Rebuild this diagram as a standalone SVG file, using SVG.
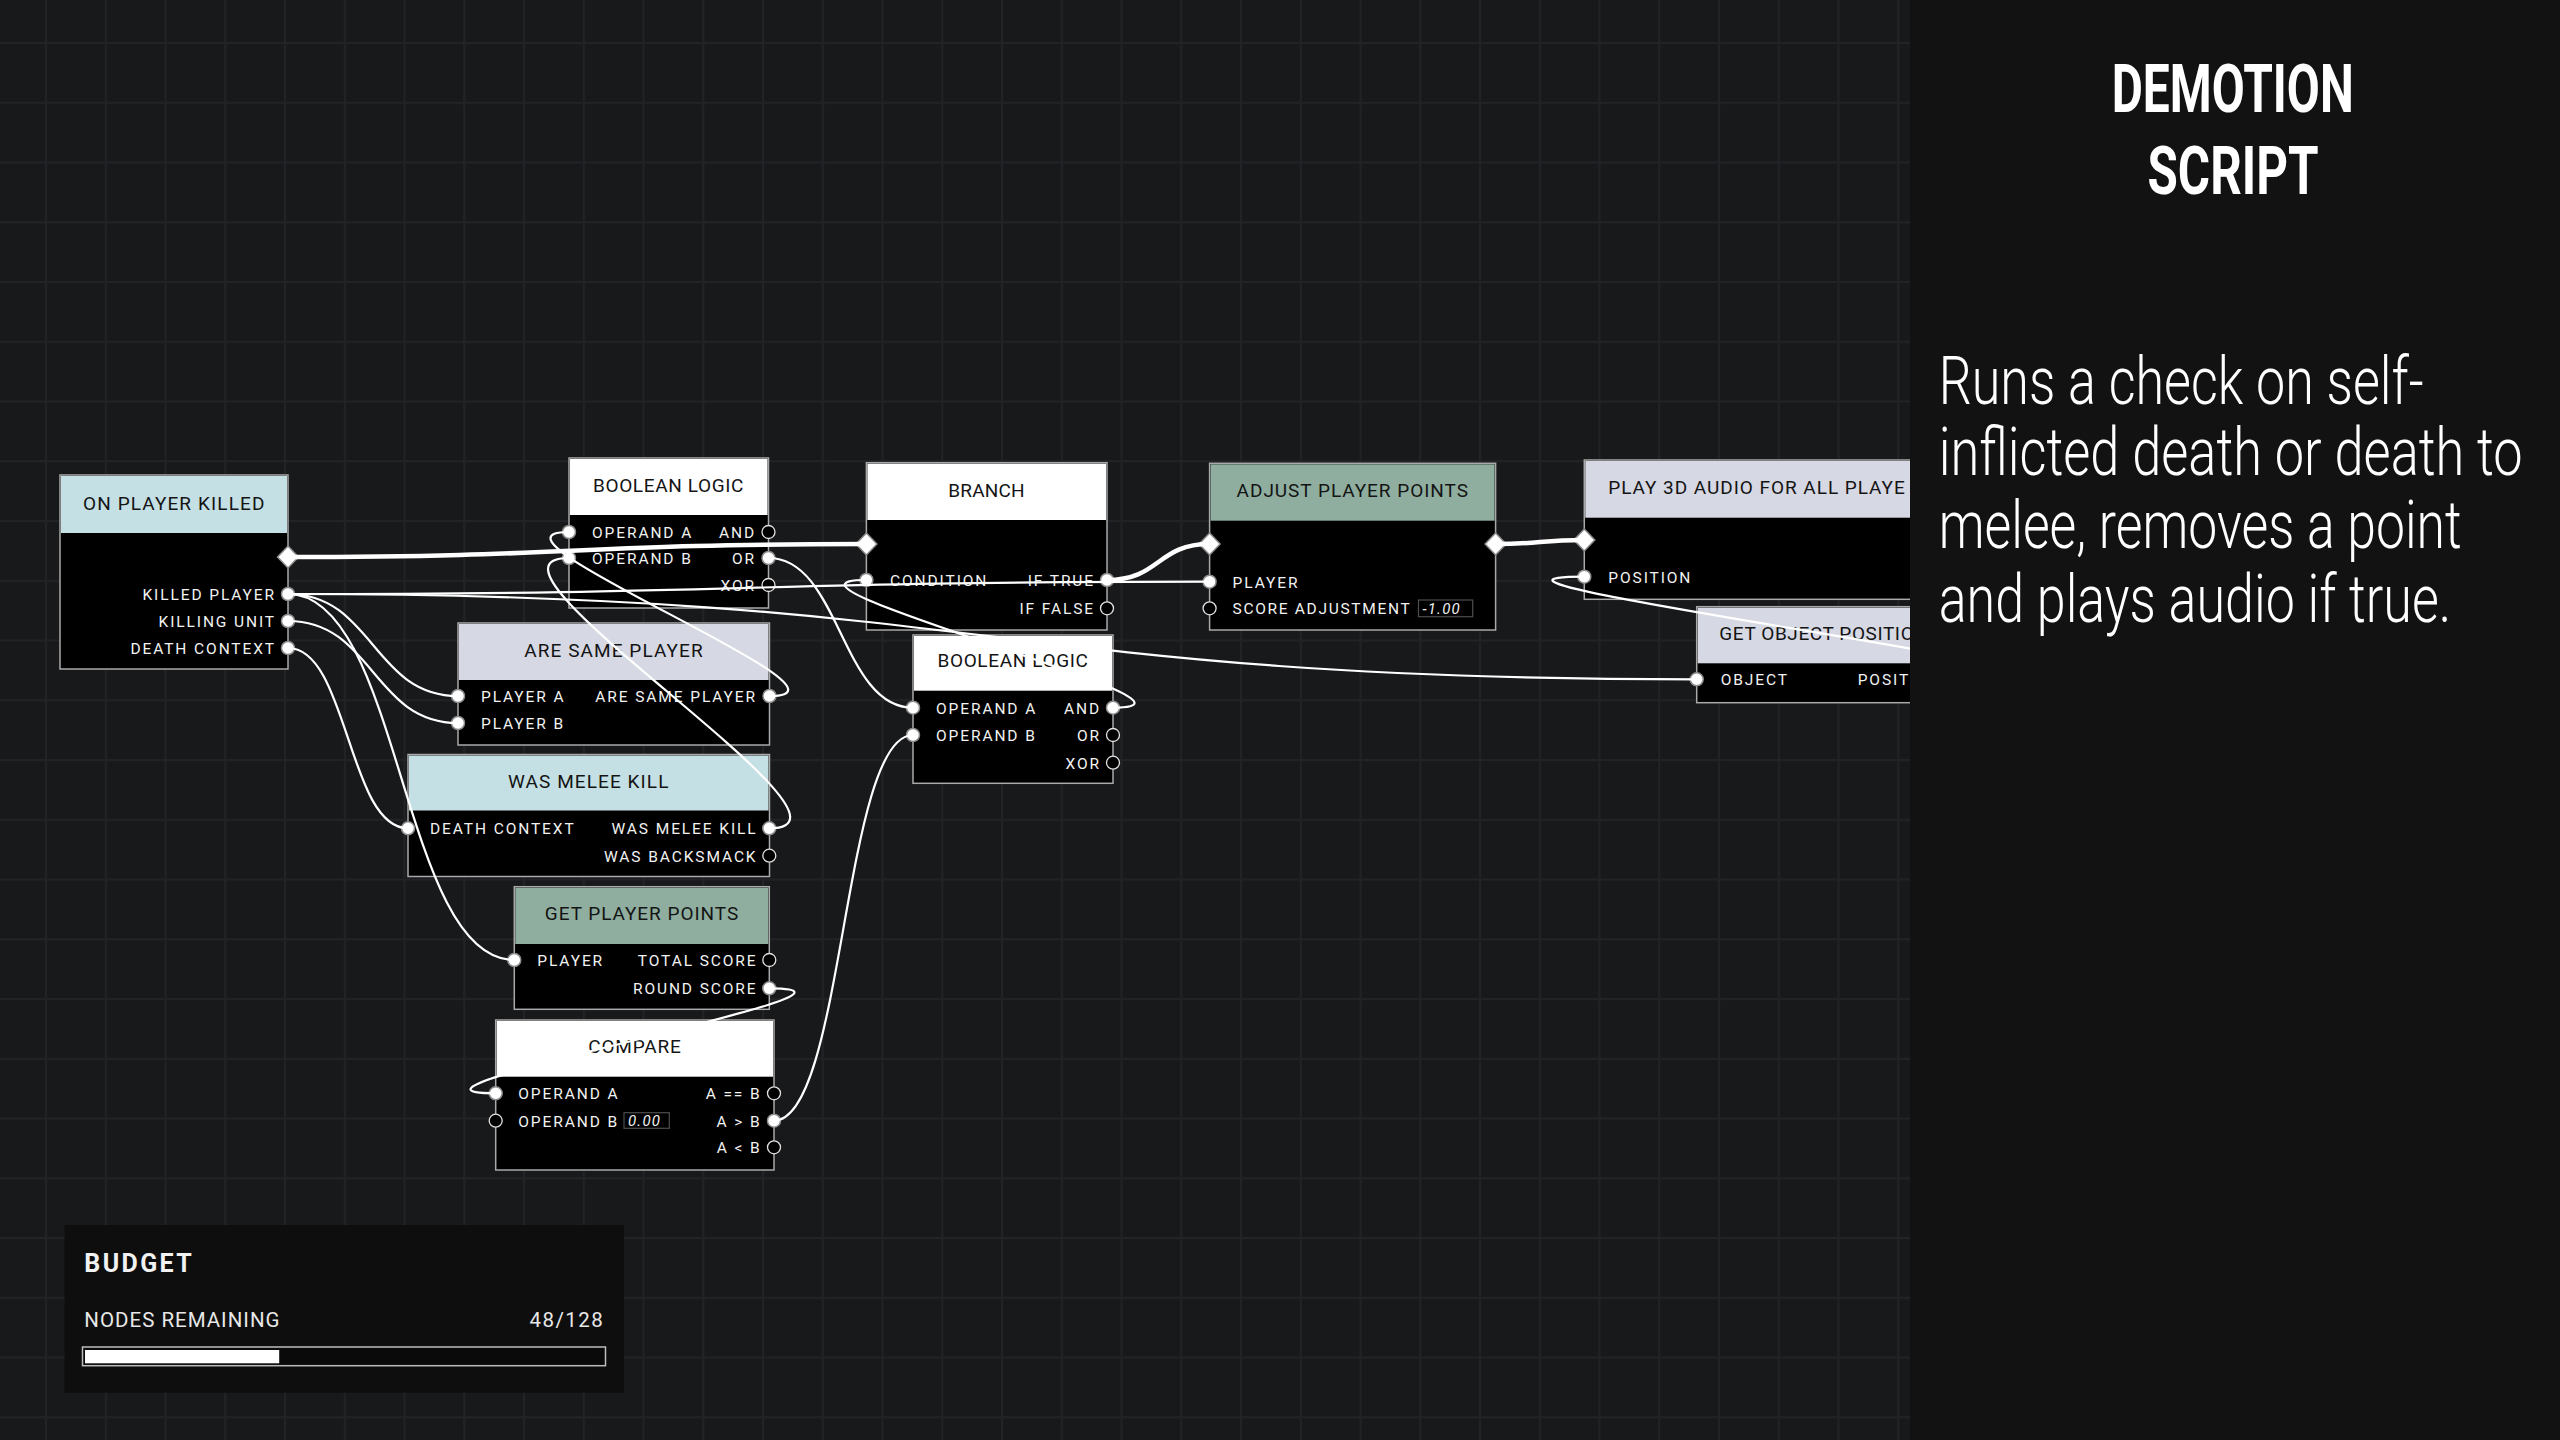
<svg xmlns="http://www.w3.org/2000/svg" xmlns:xlink="http://www.w3.org/1999/xlink" width="2560" height="1440" viewBox="0 0 2560 1440">
  <defs>
    <pattern id="grid" x="45" y="42" width="59.75" height="59.75" patternUnits="userSpaceOnUse">
      <rect x="0" y="0" width="2" height="59.75" fill="#222326"/>
      <rect x="0" y="0" width="59.75" height="2" fill="#222326"/>
    </pattern>
    <path id="dia" d="M0,-11 L10.5,0 L0,11 L-10.5,0 Z" fill="#ffffff" stroke="#8a8a8a" stroke-width="1.5"/>
  </defs>
  <style>
    .nb { fill: #000000; stroke: #a9a9a9; stroke-width: 1.5; }
    .ttl { font-family: Roboto, "Liberation Sans", sans-serif; font-size: 19px; fill: #141414; text-anchor: middle; letter-spacing: 0.6px; }
    .ttl-l { font-family: Roboto, "Liberation Sans", sans-serif; font-size: 19px; fill: #141414; letter-spacing: 0.6px; }
    .lbl { font-family: Roboto, "Liberation Sans", sans-serif; font-size: 15.5px; letter-spacing: 1.9px; fill: #f2f2f2; }
    .r { text-anchor: end; }
    .val { font-family: Roboto, "Liberation Sans", sans-serif; font-size: 15px; font-style: italic; letter-spacing: 1.2px; fill: #f2f2f2; }
    .vbox { fill: none; stroke: #4d4d4d; stroke-width: 1.2; }
    .pf { fill: #ffffff; stroke: #8c8c8c; stroke-width: 1.5; }
    .pe { fill: #000000; stroke: #e2e2e2; stroke-width: 1.3; }
    .wire { fill: none; stroke: #ffffff; stroke-width: 2.2; }
    .exec { fill: none; stroke: #ffffff; stroke-width: 4.5; }
    .desc { font-family: Roboto, "Liberation Sans", sans-serif; font-size: 66px; font-weight: 300; fill: #ffffff; }
  </style>

  <!-- canvas -->
  <rect x="0" y="0" width="2560" height="1440" fill="#18191b"/>
  <rect x="0" y="0" width="2560" height="1440" fill="url(#grid)"/>

  <!-- nodes -->
  <g id="node-on-player-killed">
    <rect class="nb" x="60" y="475" width="228" height="194"/>
    <rect x="61" y="476" width="226" height="57" fill="#c4e0e4"/>
    <text class="ttl" x="174" y="510" textLength="182">ON PLAYER KILLED</text>
    <use href="#dia" x="288" y="557"/>
    <text class="lbl r" x="276" y="600">KILLED PLAYER</text>
    <text class="lbl r" x="276" y="627">KILLING UNIT</text>
    <text class="lbl r" x="276" y="654">DEATH CONTEXT</text>
    <circle class="pf" cx="288" cy="594" r="6.5"/>
    <circle class="pf" cx="288" cy="621" r="6.5"/>
    <circle class="pf" cx="288" cy="648" r="6.5"/>
  </g>

  <g id="node-boolean-logic-1">
    <rect class="nb" x="569" y="458" width="199.5" height="150"/>
    <rect x="570" y="459" width="197.5" height="56" fill="#ffffff"/>
    <text class="ttl" x="668.5" y="492" textLength="151">BOOLEAN LOGIC</text>
    <text class="lbl" x="592" y="538">OPERAND A</text>
    <text class="lbl" x="592" y="564">OPERAND B</text>
    <text class="lbl r" x="756" y="538">AND</text>
    <text class="lbl r" x="756" y="564">OR</text>
    <text class="lbl r" x="756" y="591">XOR</text>
    <circle class="pf" cx="569" cy="532" r="6.5"/>
    <circle class="pf" cx="569" cy="558" r="6.5"/>
    <circle class="pe" cx="768.5" cy="532" r="6.5"/>
    <circle class="pf" cx="768.5" cy="558" r="6.5"/>
    <circle class="pe" cx="768.5" cy="585" r="6.5"/>
  </g>

  <g id="node-are-same-player">
    <rect class="nb" x="458" y="623" width="311.5" height="122"/>
    <rect x="459" y="624" width="309.5" height="56" fill="#d6d8e3"/>
    <text class="ttl" x="613.7" y="657" textLength="179">ARE SAME PLAYER</text>
    <text class="lbl" x="481" y="702">PLAYER A</text>
    <text class="lbl" x="481" y="729">PLAYER B</text>
    <text class="lbl r" x="757" y="702">ARE SAME PLAYER</text>
    <circle class="pf" cx="458" cy="696" r="6.5"/>
    <circle class="pf" cx="458" cy="723" r="6.5"/>
    <circle class="pf" cx="769.5" cy="696" r="6.5"/>
  </g>

  <g id="node-was-melee-kill">
    <rect class="nb" x="408" y="754.5" width="361.5" height="122"/>
    <rect x="409" y="755.5" width="359.5" height="55" fill="#c4e0e4"/>
    <text class="ttl" x="588.5" y="788" textLength="161">WAS MELEE KILL</text>
    <text class="lbl" x="430" y="834">DEATH CONTEXT</text>
    <text class="lbl r" x="757.5" y="834">WAS MELEE KILL</text>
    <text class="lbl r" x="757.5" y="862">WAS BACKSMACK</text>
    <circle class="pf" cx="408" cy="828.3" r="6.5"/>
    <circle class="pf" cx="769.3" cy="828.3" r="6.5"/>
    <circle class="pe" cx="769.3" cy="855.7" r="6.5"/>
  </g>

  <g id="node-get-player-points">
    <rect class="nb" x="514.3" y="886.7" width="255" height="122.6"/>
    <rect x="515.3" y="887.7" width="253" height="56.3" fill="#8fae9f"/>
    <text class="ttl" x="641.8" y="920" textLength="194">GET PLAYER POINTS</text>
    <text class="lbl" x="537.3" y="966">PLAYER</text>
    <text class="lbl r" x="757.5" y="966">TOTAL SCORE</text>
    <text class="lbl r" x="757.5" y="994.3">ROUND SCORE</text>
    <circle class="pf" cx="514.3" cy="960" r="6.5"/>
    <circle class="pe" cx="769.3" cy="960" r="6.5"/>
    <circle class="pf" cx="769.3" cy="988.3" r="6.5"/>
  </g>

  <g id="node-compare">
    <rect class="nb" x="495.7" y="1020" width="278.3" height="150"/>
    <rect x="496.7" y="1021" width="276.3" height="55.7" fill="#ffffff"/>
    <text class="ttl" x="634.8" y="1053.3" textLength="93">COMPARE</text>
    <text class="lbl" x="518.3" y="1099.3">OPERAND A</text>
    <text class="lbl" x="518.3" y="1126.7">OPERAND B</text>
    <rect class="vbox" x="624" y="1112.7" width="45.3" height="15.6"/>
    <text class="val" x="628" y="1126">0.00</text>
    <text class="lbl r" x="761.5" y="1099.3">A == B</text>
    <text class="lbl r" x="761.5" y="1126.7">A &gt; B</text>
    <text class="lbl r" x="761.5" y="1153.3">A &lt; B</text>
    <circle class="pf" cx="495.7" cy="1093.3" r="6.5"/>
    <circle class="pe" cx="495.7" cy="1120.7" r="6.5"/>
    <circle class="pe" cx="774" cy="1093.3" r="6.5"/>
    <circle class="pf" cx="774" cy="1120.7" r="6.5"/>
    <circle class="pe" cx="774" cy="1147.3" r="6.5"/>
  </g>

  <g id="node-boolean-logic-2">
    <rect class="nb" x="913" y="635" width="200" height="148.3"/>
    <rect x="914" y="636" width="198" height="54.7" fill="#ffffff"/>
    <text class="ttl" x="1013" y="667" textLength="151">BOOLEAN LOGIC</text>
    <text class="lbl" x="936" y="713.7">OPERAND A</text>
    <text class="lbl" x="936" y="741">OPERAND B</text>
    <text class="lbl r" x="1101" y="713.7">AND</text>
    <text class="lbl r" x="1101" y="741">OR</text>
    <text class="lbl r" x="1101" y="768.7">XOR</text>
    <circle class="pf" cx="913" cy="707.7" r="6.5"/>
    <circle class="pf" cx="913" cy="735" r="6.5"/>
    <circle class="pf" cx="1113" cy="707.7" r="6.5"/>
    <circle class="pe" cx="1113" cy="735" r="6.5"/>
    <circle class="pe" cx="1113" cy="762.7" r="6.5"/>
  </g>

  <g id="node-branch">
    <rect class="nb" x="866.4" y="462.7" width="240.6" height="167.3"/>
    <rect x="867.4" y="463.7" width="238.6" height="56.3" fill="#ffffff"/>
    <text class="ttl" x="986.7" y="497.3" textLength="77">BRANCH</text>
    <use href="#dia" x="866.4" y="544"/>
    <text class="lbl" x="890" y="586">CONDITION</text>
    <text class="lbl r" x="1095" y="586">IF TRUE</text>
    <text class="lbl r" x="1095" y="614.3">IF FALSE</text>
    <circle class="pf" cx="866.4" cy="580" r="6.5"/>
    <circle class="pf" cx="1107" cy="580" r="6.5"/>
    <circle class="pe" cx="1107" cy="608.3" r="6.5"/>
  </g>

  <g id="node-adjust-player-points">
    <rect class="nb" x="1209.6" y="463.3" width="286" height="166.7"/>
    <rect x="1210.6" y="464.3" width="284" height="56.4" fill="#8fae9f"/>
    <text class="ttl" x="1352.6" y="497.3" textLength="232">ADJUST PLAYER POINTS</text>
    <use href="#dia" x="1209.6" y="544"/>
    <use href="#dia" x="1495.6" y="544"/>
    <text class="lbl" x="1232.6" y="587.7">PLAYER</text>
    <text class="lbl" x="1232.6" y="614.3" textLength="179">SCORE ADJUSTMENT</text>
    <rect class="vbox" x="1418.5" y="600" width="54.2" height="16.7"/>
    <text class="val" x="1422.5" y="614">-1.00</text>
    <circle class="pf" cx="1209.6" cy="581.7" r="6.5"/>
    <circle class="pe" cx="1209.6" cy="608.3" r="6.5"/>
  </g>

  <g id="node-play-3d-audio">
    <rect class="nb" x="1584.3" y="460" width="420" height="139.3"/>
    <rect x="1585.3" y="461" width="418" height="56.7" fill="#d6d8e3"/>
    <text class="ttl-l" x="1608.3" y="494" textLength="297">PLAY 3D AUDIO FOR ALL PLAYE</text>
    <use href="#dia" x="1584.3" y="540"/>
    <text class="lbl" x="1608.3" y="582.7">POSITION</text>
    <circle class="pf" cx="1584.3" cy="576.7" r="6.5"/>
  </g>

  <g id="node-get-object-position">
    <rect class="nb" x="1696.7" y="606.7" width="320" height="96"/>
    <rect x="1697.7" y="607.7" width="318" height="55.6" fill="#d6d8e3"/>
    <text class="ttl-l" x="1719.3" y="640" textLength="195">GET OBJECT POSITIO</text>
    <text class="lbl" x="1720.7" y="685.3">OBJECT</text>
    <text class="lbl" x="1857.7" y="685.3">POSIT</text>
    <circle class="pf" cx="1696.7" cy="679.3" r="6.5"/>
  </g>

  <!-- connectors -->
  <g id="connectors">
    <path class="exec" d="M288,557 C577,557 577,544 866.4,544"/>
    <path class="exec" d="M1107,580 C1160,580 1157,544 1209.6,544"/>
    <path class="exec" d="M1495.6,544 C1540,544 1540,540 1584.3,540"/>
    <path class="wire" d="M288,594 C373,594 373,696 458,696"/>
    <path class="wire" d="M288,621 C373,621 373,723 458,723"/>
    <path class="wire" d="M288,648 C348,648 348,828.3 408,828.3"/>
    <path class="wire" d="M288,594 C401,594 401,960 514.3,960"/>
    <path class="wire" d="M288,594 C749,594 749,581.7 1209.6,581.7"/>
    <path class="wire" d="M288,594 C993,594 993,679.3 1696.7,679.3"/>
    <path class="wire" d="M768.5,558 C840,558 841,707.7 913,707.7"/>
    <path class="wire" d="M1113,707.7 C1243,707.7 736,580 866.4,580"/>
    <path class="wire" d="M769.5,696 C880,696 459,532 569,532"/>
    <path class="wire" d="M769.3,828.3 C889,828.3 449,558 569,558"/>
    <path class="wire" d="M769.3,988.3 C919,988.3 346,1093.3 495.7,1093.3"/>
    <path class="wire" d="M774,1120.7 C844,1120.7 843,735 913,735"/>
    <path class="wire" d="M2000,680 C2200,680 1384,576.7 1584.3,576.7"/>
  </g>

  <!-- budget readout -->
  <g id="budget-panel">
    <rect x="64.5" y="1225" width="559.5" height="167.7" fill="#0e0e0f"/>
    <text x="84.3" y="1271.7" font-family="Roboto, 'Liberation Sans', sans-serif" font-size="25" font-weight="700" letter-spacing="1.5" fill="#f2f2f2" textLength="109">BUDGET</text>
    <text x="84.3" y="1326.7" font-family="Roboto, 'Liberation Sans', sans-serif" font-size="20.5" letter-spacing="0.8" fill="#e8e8e8" textLength="196">NODES REMAINING</text>
    <text x="603.5" y="1326.7" font-family="Roboto, 'Liberation Sans', sans-serif" font-size="20.5" letter-spacing="0.8" fill="#e8e8e8" text-anchor="end" textLength="74">48/128</text>
    <rect x="82.5" y="1347" width="523" height="18.7" fill="#0a0a0a" stroke="#bdbdbd" stroke-width="1.5"/>
    <rect x="85" y="1350" width="194.2" height="13.3" fill="#ffffff"/>
  </g>

  <!-- description panel -->
  <g id="description-panel">
    <rect x="1910" y="0" width="650" height="1440" fill="#121212"/>
    <text x="2232.7" y="111.6" font-family="Roboto, 'Liberation Sans', sans-serif" font-size="67" font-weight="700" fill="#ffffff" text-anchor="middle" textLength="242" lengthAdjust="spacingAndGlyphs">DEMOTION</text>
    <text x="2233" y="194.2" font-family="Roboto, 'Liberation Sans', sans-serif" font-size="67" font-weight="700" fill="#ffffff" text-anchor="middle" textLength="171" lengthAdjust="spacingAndGlyphs">SCRIPT</text>
    <!-- body copy is set in a horizontally condensed face -->
    <text class="desc" transform="translate(1938.7,404) scale(0.7,1)" x="0" y="0" textLength="692.9" lengthAdjust="spacingAndGlyphs">Runs a check on self-</text>
    <text class="desc" transform="translate(1938.7,475.4) scale(0.7,1)" x="0" y="0" textLength="834.3" lengthAdjust="spacingAndGlyphs">inflicted death or death to</text>
    <text class="desc" transform="translate(1938.7,548) scale(0.7,1)" x="0" y="0" textLength="747.1" lengthAdjust="spacingAndGlyphs">melee, removes a point</text>
    <text class="desc" transform="translate(1938.7,621.9) scale(0.7,1)" x="0" y="0" textLength="732.3" lengthAdjust="spacingAndGlyphs">and plays audio if true.</text>
  </g>
</svg>
